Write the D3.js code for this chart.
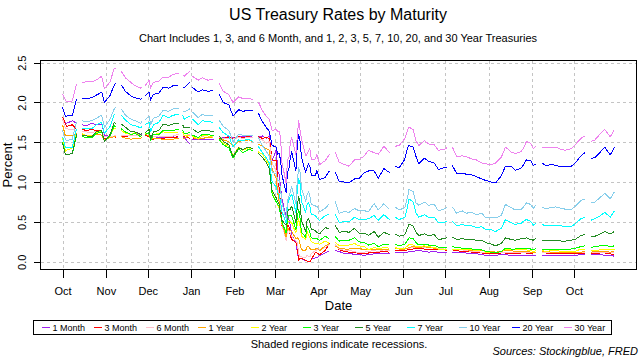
<!DOCTYPE html>
<html><head><meta charset="utf-8">
<script src="https://cdn.jsdelivr.net/npm/d3@7"></script>
<style>body{margin:0;background:#fff}svg{font-family:"Liberation Sans",Arial,sans-serif;display:block}</style>
</head><body><svg id="c" width="640" height="360"></svg>
<script>
// Trading-day samples, split into runs separated by market holidays (NA in the source -> gaps)
const segDates = [
 ["2019-10-01","2019-10-03","2019-10-04","2019-10-08","2019-10-11"],
 ["2019-10-15","2019-10-18","2019-10-22","2019-10-25","2019-10-29","2019-10-31","2019-11-04","2019-11-07","2019-11-08"],
 ["2019-11-12","2019-11-15","2019-11-19","2019-11-22","2019-11-26","2019-11-27"],
 ["2019-11-29","2019-12-02","2019-12-03","2019-12-05","2019-12-09","2019-12-12","2019-12-16","2019-12-19","2019-12-23"],
 ["2019-12-26","2019-12-27","2019-12-31"],
 ["2020-01-02","2020-01-06","2020-01-09","2020-01-13","2020-01-17"],
 ["2020-01-21","2020-01-24","2020-01-28","2020-01-31","2020-02-04","2020-02-07","2020-02-11","2020-02-14"],
 ["2020-02-18","2020-02-21","2020-02-24","2020-02-26","2020-02-28","2020-03-02","2020-03-03","2020-03-04","2020-03-05","2020-03-06","2020-03-09","2020-03-10","2020-03-11","2020-03-12","2020-03-13","2020-03-16","2020-03-17","2020-03-18","2020-03-19","2020-03-20","2020-03-23","2020-03-24","2020-03-25","2020-03-26","2020-03-27","2020-03-30","2020-03-31","2020-04-02","2020-04-06","2020-04-09"],
 ["2020-04-13","2020-04-16","2020-04-20","2020-04-23","2020-04-27","2020-04-30","2020-05-04","2020-05-07","2020-05-11","2020-05-14","2020-05-18","2020-05-22"],
 ["2020-05-26","2020-05-29","2020-06-02","2020-06-04","2020-06-05","2020-06-08","2020-06-10","2020-06-12","2020-06-16","2020-06-19","2020-06-23","2020-06-26","2020-06-30","2020-07-02"],
 ["2020-07-06","2020-07-09","2020-07-13","2020-07-16","2020-07-20","2020-07-23","2020-07-27","2020-07-30","2020-08-03","2020-08-06","2020-08-10","2020-08-13","2020-08-17","2020-08-20","2020-08-24","2020-08-26","2020-08-28","2020-08-31","2020-09-02","2020-09-04"],
 ["2020-09-08","2020-09-11","2020-09-15","2020-09-18","2020-09-22","2020-09-25","2020-09-29","2020-10-02","2020-10-06","2020-10-09"],
 ["2020-10-13","2020-10-16","2020-10-20","2020-10-23","2020-10-27","2020-10-30"]
];

const seriesNames = ["1 Month","3 Month","6 Month","1 Year","2 Year","3 Year","5 Year","7 Year","10 Year","20 Year","30 Year"];

const m1 = [
 [1.82,1.74,1.74,1.77,1.74],
 [1.72,1.71,1.74,1.72,1.73,1.59,1.57,1.58,1.59],
 [1.59,1.58,1.60,1.61,1.60,1.59],
 [1.60,1.58,1.57,1.55,1.56,1.56,1.57,1.57,1.55],
 [1.55,1.56,1.48],
 [1.53,1.54,1.53,1.54,1.53],
 [1.55,1.56,1.57,1.56,1.57,1.57,1.57,1.58],
 [1.57,1.58,1.55,1.58,1.27,1.41,1.13,1.10,0.95,0.79,0.57,0.57,0.53,0.46,0.33,0.25,0.12,0.04,0.04,0.04,0.01,0.01,0.00,0.00,0.03,0.05,0.05,0.08,0.11,0.14],
 [0.14,0.13,0.10,0.11,0.09,0.09,0.08,0.09,0.10,0.10,0.11,0.10],
 [0.12,0.12,0.12,0.12,0.13,0.13,0.14,0.14,0.13,0.12,0.13,0.12,0.12,0.11],
 [0.11,0.11,0.11,0.11,0.10,0.10,0.09,0.08,0.08,0.08,0.09,0.09,0.08,0.08,0.08,0.08,0.08,0.08,0.08,0.08],
 [0.08,0.08,0.08,0.08,0.08,0.08,0.08,0.08,0.09,0.09],
 [0.09,0.09,0.09,0.08,0.08,0.07]
];
const m3 = [
 [1.82,1.73,1.70,1.72,1.66],
 [1.66,1.65,1.66,1.65,1.64,1.54,1.56,1.57,1.56],
 [1.58,1.57,1.59,1.59,1.59,1.59],
 [1.59,1.57,1.54,1.54,1.55,1.55,1.56,1.56,1.57],
 [1.58,1.57,1.55],
 [1.54,1.56,1.55,1.56,1.57],
 [1.55,1.55,1.56,1.55,1.57,1.56,1.57,1.59],
 [1.57,1.55,1.56,1.55,1.28,1.27,1.00,0.93,0.72,0.45,0.33,0.47,0.44,0.33,0.28,0.24,0.19,0.02,0.04,0.04,0.02,0.01,0.00,0.00,0.03,0.12,0.11,0.09,0.14,0.23],
 [0.22,0.15,0.13,0.12,0.12,0.10,0.10,0.11,0.12,0.12,0.13,0.12],
 [0.14,0.14,0.14,0.15,0.15,0.16,0.17,0.17,0.16,0.16,0.16,0.15,0.15,0.14],
 [0.15,0.14,0.13,0.13,0.12,0.12,0.11,0.10,0.10,0.10,0.11,0.11,0.10,0.10,0.11,0.11,0.11,0.10,0.11,0.11],
 [0.11,0.11,0.10,0.10,0.10,0.10,0.10,0.10,0.10,0.10],
 [0.10,0.10,0.11,0.11,0.10,0.09]
];
const m6 = [
 [1.79,1.68,1.67,1.66,1.65],
 [1.64,1.63,1.62,1.64,1.63,1.57,1.57,1.58,1.58],
 [1.59,1.58,1.58,1.58,1.58,1.59],
 [1.60,1.58,1.55,1.57,1.58,1.57,1.57,1.58,1.60],
 [1.59,1.58,1.60],
 [1.57,1.56,1.57,1.56,1.58],
 [1.56,1.55,1.55,1.54,1.56,1.55,1.56,1.56],
 [1.55,1.53,1.49,1.51,1.24,1.14,0.96,0.86,0.66,0.47,0.27,0.40,0.39,0.35,0.32,0.26,0.24,0.10,0.06,0.06,0.05,0.08,0.07,0.06,0.10,0.14,0.15,0.15,0.18,0.22],
 [0.22,0.16,0.14,0.14,0.13,0.11,0.12,0.13,0.14,0.13,0.15,0.14],
 [0.17,0.17,0.16,0.17,0.17,0.18,0.18,0.18,0.18,0.18,0.18,0.17,0.16,0.15],
 [0.16,0.15,0.15,0.14,0.13,0.13,0.12,0.12,0.11,0.11,0.12,0.12,0.12,0.12,0.12,0.12,0.12,0.11,0.12,0.12],
 [0.12,0.12,0.11,0.11,0.11,0.11,0.11,0.11,0.11,0.11],
 [0.11,0.11,0.11,0.11,0.11,0.11]
];
const y1 = [
 [1.72,1.58,1.59,1.58,1.61],
 [1.60,1.58,1.57,1.60,1.59,1.53,1.56,1.57,1.57],
 [1.57,1.55,1.54,1.55,1.55,1.56],
 [1.60,1.58,1.54,1.55,1.55,1.53,1.54,1.54,1.55],
 [1.55,1.55,1.59],
 [1.56,1.54,1.55,1.56,1.56],
 [1.53,1.53,1.51,1.45,1.51,1.52,1.53,1.51],
 [1.48,1.45,1.42,1.40,1.17,1.04,0.87,0.75,0.59,0.48,0.31,0.43,0.40,0.39,0.38,0.29,0.30,0.29,0.22,0.15,0.14,0.19,0.19,0.17,0.15,0.16,0.17,0.14,0.20,0.23],
 [0.20,0.17,0.16,0.16,0.17,0.17,0.15,0.15,0.16,0.15,0.16,0.16],
 [0.17,0.16,0.16,0.17,0.18,0.19,0.18,0.18,0.19,0.18,0.17,0.16,0.16,0.15],
 [0.16,0.16,0.16,0.15,0.14,0.14,0.14,0.13,0.13,0.12,0.13,0.14,0.14,0.13,0.13,0.13,0.13,0.12,0.12,0.12],
 [0.13,0.13,0.12,0.12,0.12,0.12,0.12,0.12,0.12,0.13],
 [0.12,0.13,0.13,0.13,0.12,0.13]
];
const y2 = [
 [1.56,1.39,1.40,1.43,1.61],
 [1.61,1.58,1.58,1.62,1.64,1.52,1.58,1.68,1.67],
 [1.65,1.61,1.60,1.62,1.57,1.60],
 [1.61,1.61,1.55,1.60,1.61,1.63,1.62,1.62,1.63],
 [1.63,1.59,1.58],
 [1.58,1.54,1.58,1.58,1.56],
 [1.53,1.49,1.45,1.33,1.44,1.40,1.43,1.42],
 [1.38,1.35,1.27,1.21,0.86,0.76,0.71,0.67,0.59,0.49,0.38,0.50,0.50,0.50,0.49,0.36,0.47,0.54,0.44,0.32,0.28,0.38,0.34,0.30,0.25,0.23,0.23,0.22,0.26,0.23],
 [0.25,0.20,0.21,0.21,0.23,0.20,0.19,0.15,0.18,0.16,0.18,0.17],
 [0.18,0.16,0.17,0.20,0.22,0.21,0.19,0.19,0.20,0.19,0.18,0.16,0.16,0.16],
 [0.16,0.15,0.16,0.15,0.15,0.14,0.15,0.12,0.11,0.11,0.13,0.16,0.15,0.15,0.16,0.16,0.15,0.14,0.13,0.14],
 [0.14,0.13,0.14,0.14,0.13,0.13,0.13,0.13,0.16,0.15],
 [0.14,0.14,0.15,0.16,0.15,0.16]
];
const y3 = [
 [1.50,1.35,1.34,1.36,1.58],
 [1.57,1.56,1.56,1.61,1.63,1.51,1.58,1.71,1.69],
 [1.67,1.63,1.60,1.61,1.57,1.60],
 [1.60,1.62,1.52,1.60,1.60,1.65,1.65,1.65,1.66],
 [1.65,1.61,1.62],
 [1.59,1.56,1.60,1.60,1.58],
 [1.54,1.47,1.43,1.30,1.42,1.37,1.41,1.40],
 [1.36,1.31,1.24,1.17,0.85,0.75,0.72,0.70,0.59,0.50,0.36,0.53,0.58,0.58,0.58,0.40,0.55,0.66,0.54,0.37,0.31,0.44,0.41,0.37,0.30,0.29,0.29,0.27,0.32,0.29],
 [0.32,0.26,0.27,0.27,0.30,0.25,0.24,0.21,0.23,0.19,0.22,0.22],
 [0.22,0.20,0.22,0.27,0.30,0.29,0.24,0.21,0.22,0.21,0.21,0.18,0.18,0.18],
 [0.19,0.18,0.17,0.17,0.16,0.16,0.15,0.13,0.12,0.11,0.13,0.17,0.16,0.16,0.17,0.17,0.17,0.16,0.15,0.17],
 [0.16,0.16,0.16,0.16,0.15,0.15,0.16,0.17,0.19,0.20],
 [0.18,0.19,0.20,0.21,0.19,0.20]
];
const y5 = [
 [1.49,1.35,1.34,1.36,1.60],
 [1.58,1.58,1.57,1.63,1.65,1.51,1.60,1.75,1.73],
 [1.73,1.69,1.63,1.63,1.60,1.62],
 [1.62,1.66,1.54,1.63,1.65,1.73,1.71,1.73,1.73],
 [1.72,1.68,1.69],
 [1.67,1.62,1.65,1.65,1.63],
 [1.58,1.51,1.47,1.32,1.43,1.41,1.44,1.42],
 [1.36,1.31,1.24,1.17,0.89,0.80,0.76,0.72,0.62,0.52,0.46,0.63,0.66,0.66,0.70,0.49,0.69,0.82,0.72,0.52,0.38,0.52,0.54,0.50,0.41,0.39,0.37,0.35,0.43,0.41],
 [0.46,0.37,0.38,0.37,0.42,0.36,0.36,0.33,0.38,0.31,0.37,0.34],
 [0.35,0.32,0.34,0.43,0.47,0.45,0.37,0.33,0.35,0.33,0.34,0.28,0.29,0.30],
 [0.31,0.28,0.29,0.28,0.28,0.27,0.27,0.24,0.22,0.20,0.23,0.30,0.28,0.27,0.29,0.29,0.30,0.28,0.27,0.30],
 [0.27,0.26,0.27,0.27,0.26,0.26,0.27,0.28,0.33,0.34],
 [0.31,0.32,0.35,0.38,0.35,0.38]
];
const y7 = [
 [1.57,1.44,1.43,1.44,1.67],
 [1.67,1.67,1.67,1.72,1.75,1.61,1.70,1.85,1.84],
 [1.84,1.78,1.72,1.71,1.68,1.70],
 [1.72,1.75,1.63,1.72,1.75,1.84,1.81,1.84,1.85],
 [1.84,1.79,1.83],
 [1.79,1.72,1.77,1.76,1.75],
 [1.69,1.62,1.58,1.44,1.53,1.52,1.54,1.51],
 [1.45,1.37,1.30,1.24,1.00,0.94,0.87,0.85,0.75,0.63,0.49,0.72,0.77,0.82,0.85,0.62,0.91,1.04,0.98,0.76,0.62,0.72,0.75,0.70,0.60,0.58,0.55,0.52,0.58,0.60],
 [0.60,0.49,0.51,0.50,0.56,0.53,0.53,0.54,0.58,0.52,0.59,0.53],
 [0.56,0.53,0.56,0.70,0.79,0.75,0.61,0.56,0.59,0.56,0.56,0.49,0.49,0.51],
 [0.51,0.45,0.47,0.45,0.45,0.43,0.44,0.40,0.40,0.38,0.42,0.53,0.49,0.47,0.48,0.51,0.53,0.51,0.46,0.49],
 [0.47,0.45,0.46,0.46,0.45,0.44,0.44,0.48,0.54,0.56],
 [0.52,0.54,0.58,0.62,0.56,0.64]
];
const y10 = [
 [1.65,1.54,1.52,1.54,1.75],
 [1.77,1.76,1.77,1.80,1.84,1.69,1.79,1.92,1.94],
 [1.92,1.84,1.79,1.77,1.74,1.77],
 [1.78,1.83,1.72,1.80,1.83,1.90,1.89,1.92,1.93],
 [1.90,1.88,1.92],
 [1.88,1.81,1.85,1.83,1.84],
 [1.78,1.70,1.65,1.51,1.60,1.59,1.59,1.59],
 [1.56,1.46,1.38,1.33,1.13,1.10,1.02,1.02,0.92,0.74,0.54,0.76,0.82,0.88,0.94,0.73,1.02,1.18,1.12,0.92,0.76,0.84,0.88,0.83,0.72,0.70,0.70,0.63,0.67,0.73],
 [0.76,0.61,0.63,0.62,0.67,0.64,0.64,0.63,0.73,0.65,0.73,0.66],
 [0.69,0.65,0.68,0.82,0.91,0.88,0.74,0.71,0.75,0.71,0.72,0.64,0.66,0.68],
 [0.69,0.61,0.64,0.61,0.62,0.59,0.61,0.55,0.56,0.55,0.58,0.72,0.68,0.65,0.65,0.69,0.74,0.72,0.67,0.72],
 [0.68,0.67,0.68,0.69,0.67,0.66,0.65,0.70,0.77,0.79],
 [0.74,0.75,0.81,0.86,0.79,0.88]
];
const y20 = [
 [1.94,1.83,1.83,1.84,2.04],
 [2.05,2.05,2.06,2.09,2.13,2.00,2.09,2.22,2.24],
 [2.22,2.14,2.08,2.06,2.04,2.06],
 [2.08,2.13,2.03,2.10,2.12,2.19,2.18,2.21,2.22],
 [2.20,2.18,2.25],
 [2.19,2.13,2.16,2.14,2.15],
 [2.10,2.00,1.97,1.83,1.91,1.89,1.90,1.90],
 [1.87,1.76,1.68,1.64,1.46,1.44,1.35,1.36,1.28,1.09,0.87,1.12,1.17,1.30,1.38,1.14,1.47,1.60,1.51,1.31,1.12,1.18,1.23,1.20,1.09,1.08,1.15,1.03,1.06,1.14],
 [1.13,1.01,1.00,0.99,1.04,1.04,1.12,1.14,1.14,1.05,1.17,1.12],
 [1.20,1.18,1.29,1.43,1.46,1.44,1.32,1.23,1.30,1.26,1.24,1.16,1.18,1.19],
 [1.21,1.11,1.11,1.10,1.09,1.07,1.04,1.02,1.00,0.99,1.08,1.20,1.20,1.15,1.17,1.22,1.28,1.27,1.21,1.23],
 [1.24,1.21,1.22,1.21,1.19,1.19,1.20,1.24,1.33,1.37],
 [1.29,1.31,1.38,1.44,1.34,1.44]
];
const y30 = [
 [2.11,2.03,2.01,2.02,2.23],
 [2.25,2.26,2.26,2.28,2.33,2.17,2.26,2.43,2.43],
 [2.39,2.31,2.25,2.21,2.18,2.20],
 [2.21,2.28,2.18,2.25,2.27,2.32,2.32,2.35,2.37],
 [2.34,2.33,2.39],
 [2.33,2.28,2.31,2.28,2.29],
 [2.24,2.14,2.10,2.00,2.07,2.05,2.05,2.04],
 [2.01,1.90,1.82,1.79,1.65,1.66,1.64,1.64,1.56,1.25,0.99,1.28,1.30,1.49,1.56,1.34,1.57,1.77,1.65,1.55,1.33,1.35,1.39,1.42,1.29,1.29,1.35,1.22,1.27,1.35],
 [1.38,1.25,1.22,1.20,1.28,1.28,1.33,1.40,1.37,1.35,1.45,1.37],
 [1.45,1.46,1.55,1.66,1.69,1.66,1.52,1.46,1.52,1.48,1.47,1.40,1.41,1.43],
 [1.44,1.32,1.33,1.32,1.29,1.28,1.24,1.23,1.22,1.24,1.31,1.44,1.38,1.36,1.38,1.43,1.51,1.49,1.42,1.46],
 [1.44,1.43,1.44,1.44,1.41,1.40,1.42,1.47,1.55,1.58],
 [1.51,1.53,1.61,1.66,1.57,1.66]
];

const monthTicks = ["2019-10-01","2019-11-01","2019-12-01","2020-01-01","2020-02-01","2020-03-01","2020-04-01","2020-05-01","2020-06-01","2020-07-01","2020-08-01","2020-09-01","2020-10-01"];
const monthLabels = ["Oct","Nov","Dec","Jan","Feb","Mar","Apr","May","Jun","Jul","Aug","Sep","Oct"];
const yTicks = [0, 0.5, 1, 1.5, 2, 2.5];

// ---- styling (separate from data) ----
const colors = ["#a020f0","#ff0000","#ffc0cb","#ffa500","#ffff00","#00ff00","#228b22","#00ffff","#87ceeb","#0000ff","#ee82ee"];
const seriesValues = [m1,m3,m6,y1,y2,y3,y5,y7,y10,y20,y30];

const parse = d3.utcParse("%Y-%m-%d");
const svg = d3.select("#c");
const L = 40.5, R = 636.5, T = 60.5, B = 269.5;

const allDates = segDates.flat().map(parse);
const [d0, d1] = d3.extent(allDates);
const pad = (d1 - d0) * 0.04;
const x = d3.scaleUtc().domain([new Date(+d0 - pad), new Date(+d1 + pad)]).range([L, R]);

const allVals = seriesValues.flatMap(s => s.flat());
const [v0, v1] = d3.extent(allVals);
const vp = (v1 - v0) * 0.04;
const y = d3.scaleLinear().domain([v0 - vp, v1 + vp]).range([B, T]);

// grid
const grid = svg.append("g").attr("stroke", "#c4c4c4").attr("stroke-dasharray", "3,3").attr("stroke-width", 1).attr("shape-rendering", "crispEdges");
monthTicks.forEach(t => {
  const gx = Math.round(x(parse(t))) + 0.5;
  grid.append("line").attr("x1", gx).attr("x2", gx).attr("y1", T).attr("y2", B);
});
yTicks.forEach(v => {
  const gy = Math.round(y(v)) + 0.5;
  grid.append("line").attr("x1", L).attr("x2", R).attr("y1", gy).attr("y2", gy);
});

// series lines (aliased, like the reference raster)
const line = d3.line().defined(p => p.v != null).x(p => x(p.date)).y(p => y(p.v));
seriesValues.forEach((s, k) => {
  const pts = [];
  segDates.forEach((seg, si) => {
    if (s[si].length !== seg.length) console.error("length mismatch", seriesNames[k], si);
    seg.forEach((d, i) => pts.push({date: parse(d), v: s[si][i]}));
    pts.push({date: null, v: null});
  });
  svg.append("path").datum(pts).attr("d", line)
    .attr("fill", "none").attr("stroke", colors[k]).attr("stroke-width", 1)
    .attr("stroke-linejoin", "round").attr("shape-rendering", "crispEdges");
});

// box
svg.append("rect").attr("x", L).attr("y", T).attr("width", R - L).attr("height", B - T)
  .attr("fill", "none").attr("stroke", "#000").attr("stroke-width", 1).attr("shape-rendering", "crispEdges");

// x axis
const xAxis = d3.axisBottom(x).tickValues(monthTicks.map(parse)).tickFormat((d, i) => monthLabels[i]).tickSize(8).tickPadding(10);
const gx = svg.append("g").attr("transform", `translate(0,${B})`).call(xAxis);
gx.select(".domain").remove();
gx.selectAll("line").attr("stroke", "#000").attr("shape-rendering", "crispEdges");
gx.selectAll("text").attr("font-size", 11).attr("fill", "#000").attr("font-family", "Liberation Sans, Arial, sans-serif");

// y axis (labels rotated, as in the reference)
const yAxis = d3.axisLeft(y).tickValues(yTicks).tickFormat(d3.format(".1f")).tickSize(7);
const gy = svg.append("g").attr("transform", `translate(${L},0)`).call(yAxis);
gy.select(".domain").remove();
gy.selectAll("line").attr("stroke", "#000").attr("shape-rendering", "crispEdges");
gy.selectAll("text").attr("font-size", 11).attr("fill", "#000").attr("font-family", "Liberation Sans, Arial, sans-serif")
  .attr("x", 0).attr("y", 0).attr("dy", null).attr("text-anchor", "middle")
  .attr("transform", `translate(${25.5 - L},0) rotate(-90)`);

// titles
svg.append("text").attr("x", 338).attr("y", 20).attr("text-anchor", "middle").attr("font-size", 16).text("US Treasury Rates by Maturity");
svg.append("text").attr("x", 338).attr("y", 42).attr("text-anchor", "middle").attr("font-size", 11).text("Chart Includes 1, 3, and 6 Month, and 1, 2, 3, 5, 7, 10, 20, and 30 Year Treasuries");
svg.append("text").attr("x", (L + R) / 2).attr("y", 310).attr("text-anchor", "middle").attr("font-size", 13).text("Date");
svg.append("text").attr("transform", `translate(11.5,${(T + B) / 2}) rotate(-90)`).attr("text-anchor", "middle").attr("font-size", 13).text("Percent");

// legend
const lg = svg.append("g");
lg.append("rect").attr("x", 33.5).attr("y", 320.5).attr("width", 578).attr("height", 14)
  .attr("fill", "#fff").attr("stroke", "#000").attr("stroke-width", 1).attr("shape-rendering", "crispEdges");
seriesNames.forEach((n, i) => {
  const lx = Math.round(41.7 + i * 52.2);
  lg.append("line").attr("x1", lx).attr("x2", lx + 8).attr("y1", 327.5).attr("y2", 327.5)
    .attr("stroke", colors[i]).attr("stroke-width", 1).attr("shape-rendering", "crispEdges");
  lg.append("text").attr("x", lx + 10.6).attr("y", 330.7).attr("font-size", 9).text(n);
});

svg.append("text").attr("x", 339).attr("y", 348).attr("text-anchor", "middle").attr("font-size", 11).text("Shaded regions indicate recessions.");
svg.append("text").attr("x", 638).attr("y", 355).attr("text-anchor", "end").attr("font-size", 11).attr("font-style", "italic").text("Sources: Stockingblue, FRED");
</script>
</body></html>
